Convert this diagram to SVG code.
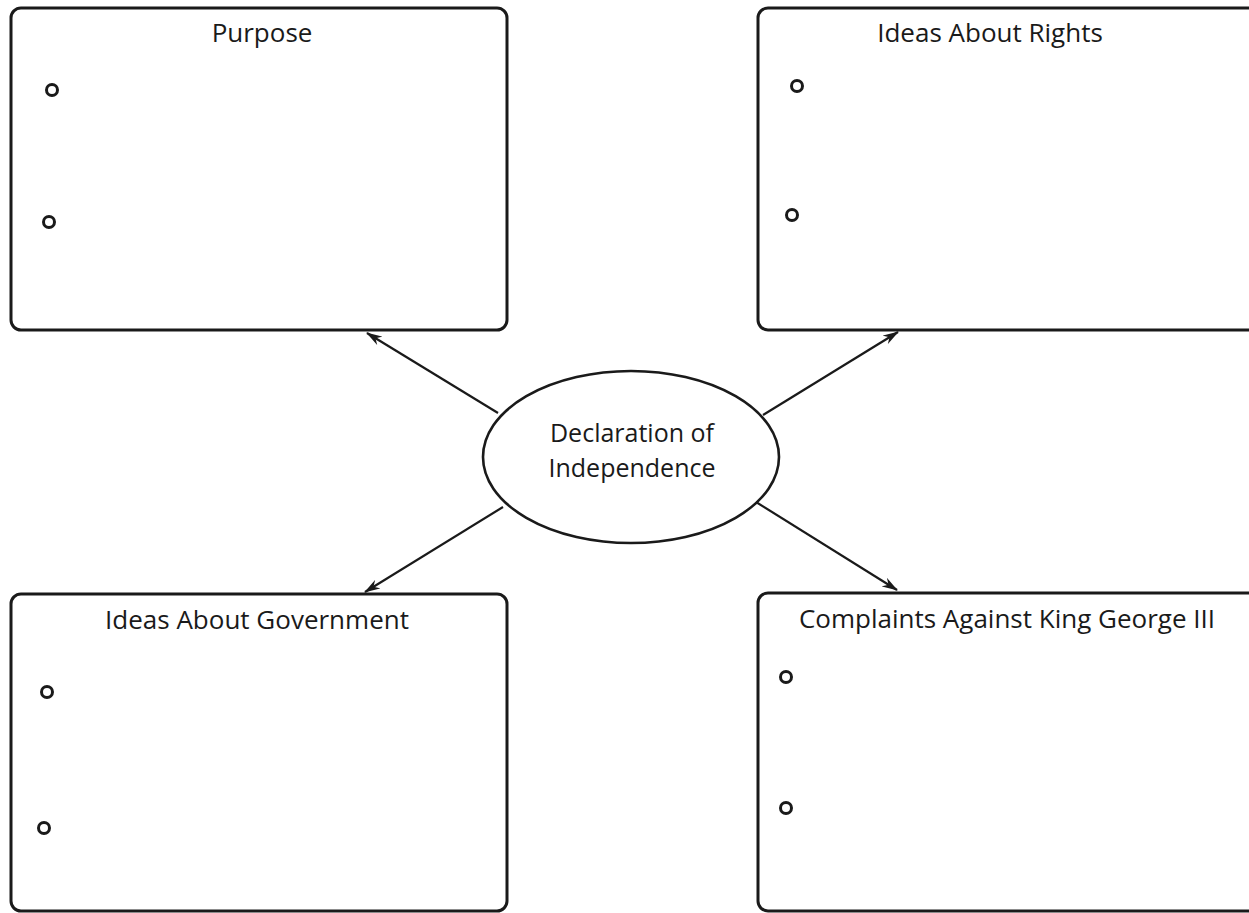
<svg xmlns="http://www.w3.org/2000/svg" width="1249" height="913" viewBox="0 0 1249 913">
<style>
.box{fill:#fff;stroke:#1a1a1a;stroke-width:3}
.title{font-family:"Open Sans","Noto Sans",sans-serif;font-size:26px;font-weight:500;fill:#1a1a1a;text-anchor:middle}
.label{font-family:"Open Sans","Noto Sans",sans-serif;font-size:25px;font-weight:500;fill:#1a1a1a;text-anchor:middle}
.bullet{fill:none;stroke:#1a1a1a;stroke-width:3}
.conn{stroke:#1a1a1a;stroke-width:2.2;fill:none;marker-end:url(#arr)}
</style>
<defs>
<marker id="arr" viewBox="0 0 16 10" refX="15" refY="5" markerWidth="16" markerHeight="10" markerUnits="userSpaceOnUse" orient="auto">
<path d="M0,0 L16,5 L0,10 L5,5 Z" fill="#1a1a1a"/>
</marker>
</defs>
<rect width="1249" height="913" fill="#fff"/>
<g id="purpose">
<rect class="box" x="11" y="8" width="496" height="322" rx="10"/>
<text class="title" x="262" y="42">Purpose</text>
<circle class="bullet" cx="52" cy="90" r="5.5"/>
<circle class="bullet" cx="49" cy="222" r="5.5"/>
</g>
<g id="rights">
<rect class="box" x="758" y="8" width="500" height="322" rx="10"/>
<text class="title" x="990" y="42">Ideas About Rights</text>
<circle class="bullet" cx="797" cy="86" r="5.5"/>
<circle class="bullet" cx="792" cy="215" r="5.5"/>
</g>
<g id="government">
<rect class="box" x="11" y="594" width="496" height="317" rx="10"/>
<text class="title" x="257" y="629">Ideas About Government</text>
<circle class="bullet" cx="47" cy="692" r="5.5"/>
<circle class="bullet" cx="44" cy="828" r="5.5"/>
</g>
<g id="complaints">
<rect class="box" x="758" y="593" width="500" height="318" rx="10"/>
<text class="title" x="1007" y="628">Complaints Against King George III</text>
<circle class="bullet" cx="786" cy="677" r="5.5"/>
<circle class="bullet" cx="786" cy="808" r="5.5"/>
</g>
<g id="center">
<ellipse cx="631" cy="457" rx="148" ry="86" fill="#fff" stroke="#1a1a1a" stroke-width="2.6"/>
<text class="label" x="632" y="442">Declaration of</text>
<text class="label" x="632" y="477">Independence</text>
</g>
<g id="connectors">
<line class="conn" x1="498" y1="413" x2="367" y2="333"/>
<line class="conn" x1="763" y1="415" x2="898" y2="332"/>
<line class="conn" x1="503" y1="507" x2="365" y2="592"/>
<line class="conn" x1="756" y1="502" x2="897" y2="590"/>
</g>
</svg>
